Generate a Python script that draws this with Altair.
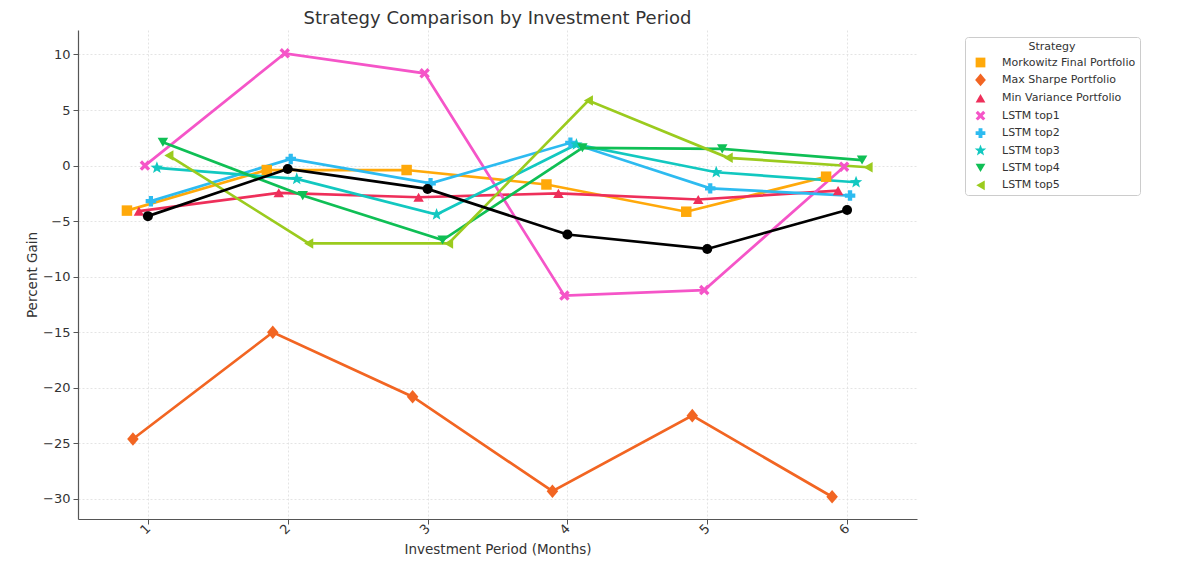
import math
import altair as alt
import pandas as pd

# ---------------- data ----------------
periods = [1, 2, 3, 4, 5, 6]
strategies = [
    "Morkowitz Final Portfolio",
    "Max Sharpe Portfolio",
    "Min Variance Portfolio",
    "LSTM top1",
    "LSTM top2",
    "LSTM top3",
    "LSTM top4",
    "LSTM top5",
]
morkowitz = [-4.05, -0.4, -0.4, -1.7, -4.15, -1.0]
max_sharpe = [-24.6, -15.0, -20.8, -29.3, -22.5, -29.8]
min_variance = [-4.1, -2.45, -2.85, -2.5, -3.05, -2.25]
lstm_top1 = [0.0, 10.1, 8.3, -11.7, -11.2, -0.1]
lstm_top2 = [-3.2, 0.6, -1.6, 2.05, -2.05, -2.7]
lstm_top3 = [-0.2, -1.2, -4.4, 1.9, -0.6, -1.5]
lstm_top4 = [2.1, -2.7, -6.7, 1.6, 1.5, 0.5]
lstm_top5 = [0.9, -7.0, -7.0, 5.85, 0.7, -0.15]
baseline = [-4.55, -0.3, -2.1, -6.2, -7.5, -4.0]

series = [morkowitz, max_sharpe, min_variance, lstm_top1,
          lstm_top2, lstm_top3, lstm_top4, lstm_top5]

# ---------------- styles ----------------
colors = ["#FFA90A", "#F26522", "#EE2F5A", "#F555C8",
          "#2DBBF0", "#12C8C0", "#0FBF55", "#9BCB1E"]

x_path = ("M-1,-0.55L-0.55,-1L0,-0.45L0.55,-1L1,-0.55L0.45,0L1,0.55"
          "L0.55,1L0,0.45L-0.55,1L-1,0.55L-0.45,0Z")
diamond_path = "M0,-1.3L1.1,0L0,1.3L-1.1,0Z"
star_pts = []
for k in range(10):
    r = 1.25 if k % 2 == 0 else 0.52
    a = -math.pi / 2 + k * math.pi / 5
    star_pts.append(f"{r*math.cos(a):.3f},{r*math.sin(a):.3f}")
star_path = "M" + "L".join(star_pts) + "Z"

shapes = ["square", diamond_path, "triangle-up", x_path,
          "cross", star_path, "triangle-down", "triangle-left"]

# dodge (layout) offsets as in a dodged point plot
n = len(strategies)
dodge = {s: -0.15 + 0.3 * i / (n - 1) for i, s in enumerate(strategies)}

rows = []
for s, vals in zip(strategies, series):
    for p, v in zip(periods, vals):
        rows.append({"Strategy": s, "period": p, "x": p + dodge[s], "gain": v})
df = pd.DataFrame(rows)
df_base = pd.DataFrame({"period": periods, "x": periods, "gain": baseline})

FONT = "DejaVu Sans"
W, H = 839, 489

xscale = alt.Scale(domain=[0.5, 6.5], nice=False, zero=False)
yscale = alt.Scale(domain=[-31.8, 12.2], nice=False, zero=False)

xaxis = alt.Axis(
    title="Investment Period (Months)", values=periods, format="d",
    labelAngle=315, labelAlign="right", labelBaseline="middle",
    labelPadding=2, tickSize=5, grid=True,
    titleY=30, titleBaseline="middle",
)
yaxis = alt.Axis(
    title="Percent Gain", values=[-30, -25, -20, -15, -10, -5, 0, 5, 10],
    tickSize=5, labelPadding=3, grid=True,
    titleX=-46, titleY=H / 2, titleBaseline="middle", titleAngle=270,
)

X = alt.X("x:Q", scale=xscale, axis=xaxis)
Y = alt.Y("gain:Q", scale=yscale, axis=yaxis)

legend = alt.Legend(
    title="Strategy", orient="none", legendX=887, legendY=7,
    titleAnchor="middle", titleFontSize=11, titleFontWeight="normal",
    titleColor="#333", titleFont=FONT, titlePadding=5,
    labelFontSize=11, labelFont=FONT, labelColor="#333",
    symbolSize=95, symbolStrokeWidth=0, symbolOffset=6, labelOffset=16,
    rowPadding=5.4, padding=4, strokeColor="#cccccc", fillColor="white",
    cornerRadius=3,
)

cscale = alt.Scale(domain=strategies, range=colors)
sscale = alt.Scale(domain=strategies, range=shapes)

lines = alt.Chart(df).mark_line(strokeWidth=2.7).encode(
    x=X, y=Y,
    color=alt.Color("Strategy:N", scale=cscale, legend=None, sort=strategies),
)
points = alt.Chart(df).mark_point(filled=True, opacity=1, size=110).encode(
    x=X, y=Y,
    color=alt.Color("Strategy:N", scale=cscale, legend=legend, sort=strategies),
    shape=alt.Shape("Strategy:N", scale=sscale, legend=legend, sort=strategies),
)
base_line = alt.Chart(df_base).mark_line(strokeWidth=2.7, color="black").encode(
    x=X, y=Y)
base_pts = alt.Chart(df_base).mark_point(
    filled=True, opacity=1, size=100, shape="circle", color="black").encode(x=X, y=Y)

chart = alt.layer(lines, points, base_line, base_pts).resolve_scale(
    color="independent", shape="independent"
).properties(
    width=W, height=H,
    autosize=alt.AutoSizeParams(type="none"),
    padding={"left": 70, "top": 22, "right": 250, "bottom": 45},
    title=alt.TitleParams(
        "Strategy Comparison by Investment Period", fontSize=18, font=FONT,
        fontWeight="normal", color="#333", anchor="middle", offset=2,
    ),
).configure_view(stroke=None).configure_axis(
    labelFont=FONT, titleFont=FONT, labelFontSize=13, titleFontSize=13.5,
    labelColor="#333", titleColor="#333", titleFontWeight="normal",
    domainColor="#555", tickColor="#555", domainWidth=1.2,
    gridColor="#dddddd", gridDash=[2, 2], gridWidth=0.8,
)

chart.save("out.html", embed_options={"renderer": "svg", "actions": False})
